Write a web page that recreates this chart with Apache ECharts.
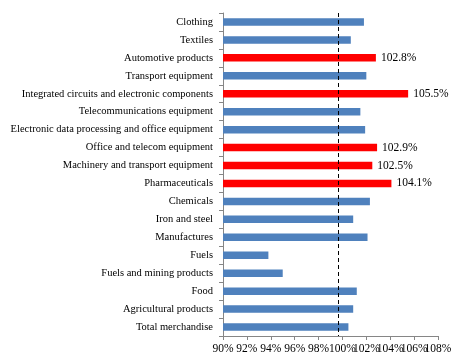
<!DOCTYPE html>
<html><head><meta charset="utf-8">
<script src="https://cdn.jsdelivr.net/npm/echarts@6/dist/echarts.min.js"></script>
<style>html,body{margin:0;padding:0;background:#fff}#c{width:467px;height:364px}</style>
</head><body><div id="c"></div>
<script>
const categories = ["Clothing","Textiles","Automotive products","Transport equipment","Integrated circuits and electronic components","Telecommunications equipment","Electronic data processing and office equipment","Office and telecom equipment","Machinery and transport equipment","Pharmaceuticals","Chemicals","Iron and steel","Manufactures","Fuels","Fuels and mining products","Food","Agricultural products","Total merchandise"];
const values = [101.8,100.7,102.8,102.0,105.5,101.5,101.9,102.9,102.5,104.1,102.3,100.9,102.1,93.8,95.0,101.2,100.9,100.5];
const highlighted = [false,false,true,false,true,false,false,true,true,true,false,false,false,false,false,false,false,false];
const referenceLine = 99.65;
const xMin = 90, xMax = 108, xStep = 2;

const blue = '#4F81BD', red = '#FF0000';
const font = 'Liberation Serif';
const labelBase = {color:'#000',fontFamily:font,fontSize:11.5,margin:7,hideOverlap:false,showMinLabel:true,showMaxLabel:true};
const chart = echarts.init(document.getElementById('c'), null, {renderer:'canvas'});
chart.setOption({
  animation:false,
  grid:{left:223,right:29,top:13,bottom:28,containLabel:false},
  xAxis:[
    {type:'value',min:xMin,max:xMax,interval:xStep,position:'bottom',
      axisLine:{show:true,lineStyle:{color:'#868686'}},
      axisTick:{show:true,length:4,lineStyle:{color:'#868686'}},
      splitLine:{show:false},
      axisLabel:Object.assign({},labelBase,{formatter:v=>v===xMax?'':v+'%'})},
    {type:'value',min:xMin,max:xMax,interval:xStep,position:'bottom',
      axisLine:{show:false},axisTick:{show:false},splitLine:{show:false},
      axisLabel:Object.assign({},labelBase,{formatter:v=>v===xMax?v+'%':''})}
  ],
  yAxis:{type:'category',data:categories,inverse:true,
    axisLine:{show:true,lineStyle:{color:'#868686'}},
    axisTick:{show:true,length:4,lineStyle:{color:'#868686'}},
    axisLabel:{color:'#000',fontFamily:font,fontSize:10.5,margin:10,interval:0}},
  series:[{type:'bar',barWidth:7.5,xAxisIndex:0,
    data:values.map((v,i)=>({value:v,itemStyle:{color:highlighted[i]?red:blue},
      label:{show:highlighted[i],position:'right',distance:5,formatter:p=>p.value.toFixed(1)+'%',color:'#000',fontFamily:font,fontSize:11.5}})),
    markLine:{symbol:'none',silent:true,label:{show:false},
      lineStyle:{color:'#000',type:[4,3],width:1},
      data:[{xAxis:referenceLine}]}
  }]
});
</script></body></html>
